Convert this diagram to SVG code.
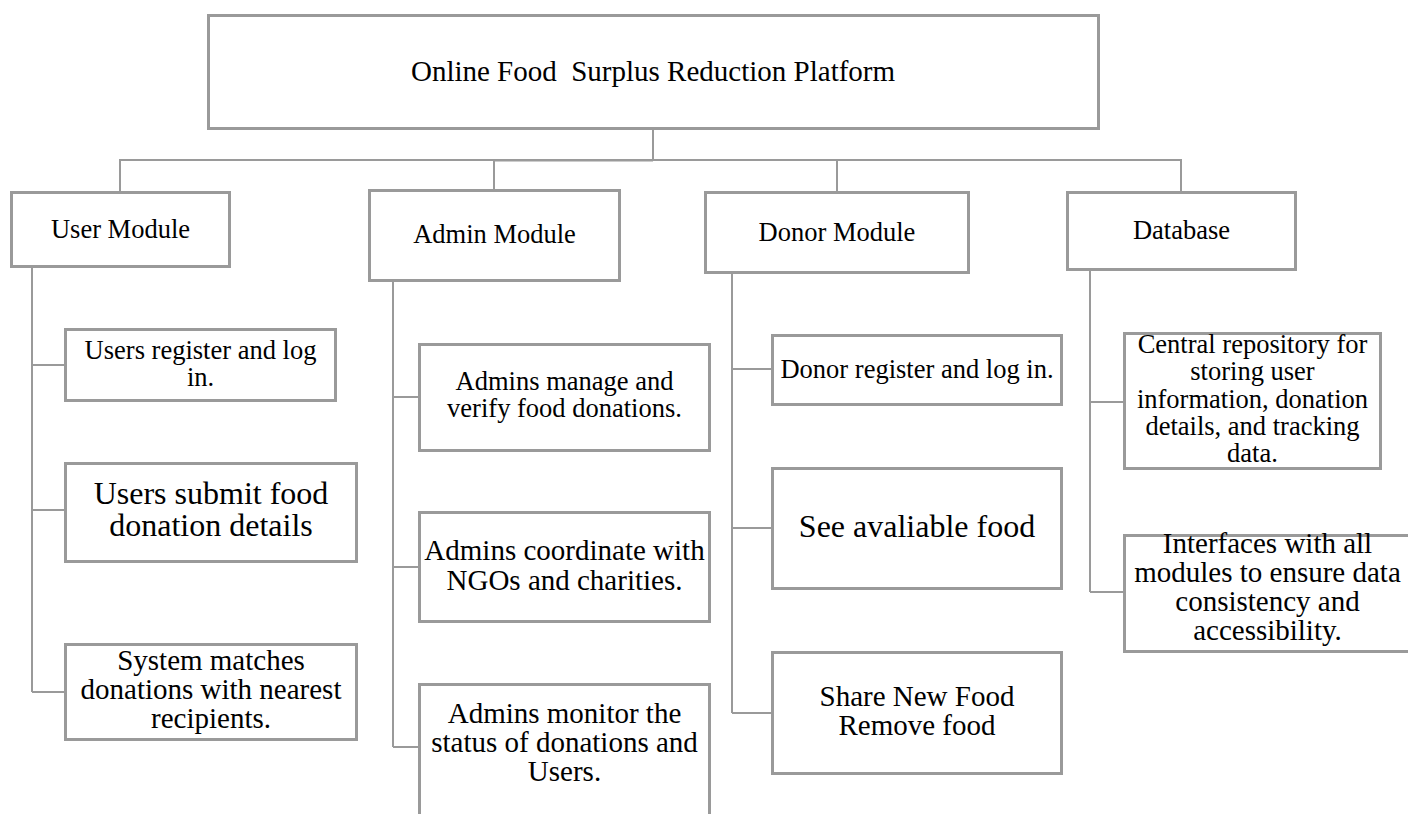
<svg xmlns="http://www.w3.org/2000/svg" width="1408" height="814" viewBox="0 0 1408 814">
<style>
  .box { fill: #ffffff; stroke: #9a9a9a; stroke-width: 3; }
  .conn { fill: none; stroke: #9a9a9a; stroke-width: 2; }
  .lbl { fill: #000000; text-anchor: middle; }
  .t29 { font-size: 29px; }
  .t26 { font-size: 26.5px; }
  .t32 { font-size: 32px; }
</style>
<rect x="0" y="0" width="1408" height="814" fill="#ffffff"/>
<g id="connectors">
  <path class="conn" d="M653 130 V160"/>
  <path class="conn" d="M120 191 V160 H1181 V191"/>
  <path class="conn" d="M494 160.5 H653" stroke-width="3"/>
  <path class="conn" d="M494 160 V189"/>
  <path class="conn" d="M837 160 V191"/>
  <path class="conn" d="M32 268 V692 M32 365 H64 M32 510 H64 M32 692 H64"/>
  <path class="conn" d="M393 282 V747 M393 397 H418 M393 567 H418 M393 747 H418"/>
  <path class="conn" d="M732 274 V713 M732 369 H771 M732 528 H771 M732 713 H771"/>
  <path class="conn" d="M1090 271 V592 M1090 402 H1123 M1090 592 H1123"/>
</g>
<g font-family="'Liberation Serif', 'DejaVu Serif', serif">
<g id="title">
  <rect class="box" x="208.5" y="15.5" width="890" height="113"/>
  <text class="lbl t29" x="653" y="81" xml:space="preserve">Online Food  Surplus Reduction Platform</text>
</g>
<g id="user-module">
  <rect class="box" x="11.5" y="192.5" width="218" height="74"/>
  <text class="lbl t26" x="120.5" y="238">User Module</text>
</g>
<g id="admin-module">
  <rect class="box" x="369.5" y="190.5" width="250" height="90"/>
  <text class="lbl t26" x="494.5" y="243">Admin Module</text>
</g>
<g id="donor-module">
  <rect class="box" x="705.5" y="192.5" width="263" height="80"/>
  <text class="lbl t26" x="837" y="241">Donor Module</text>
</g>
<g id="database">
  <rect class="box" x="1067.5" y="192.5" width="228" height="77"/>
  <text class="lbl t26" x="1181.5" y="239">Database</text>
</g>
<g id="user-register">
  <rect class="box" x="65.5" y="329.5" width="270" height="71"/>
  <text class="lbl t26" x="200.5" y="359">Users register and log</text>
  <text class="lbl t26" x="200.5" y="386">in.</text>
</g>
<g id="user-submit">
  <rect class="box" x="65.5" y="463.5" width="291" height="98"/>
  <text class="lbl t32" x="211" y="504">Users submit food</text>
  <text class="lbl t32" x="211" y="536">donation details</text>
</g>
<g id="user-match">
  <rect class="box" x="65.5" y="644.5" width="291" height="95"/>
  <text class="lbl t29" x="211" y="670">System matches</text>
  <text class="lbl t29" x="211" y="699">donations with nearest</text>
  <text class="lbl t29" x="211" y="728">recipients.</text>
</g>
<g id="admin-verify">
  <rect class="box" x="419.5" y="344.5" width="290" height="106"/>
  <text class="lbl t26" x="564.5" y="390">Admins manage and</text>
  <text class="lbl t26" x="564.5" y="417">verify food donations.</text>
</g>
<g id="admin-coordinate">
  <rect class="box" x="419.5" y="512.5" width="290" height="109"/>
  <text class="lbl t29" x="564.5" y="560">Admins coordinate with</text>
  <text class="lbl t29" x="564.5" y="590">NGOs and charities.</text>
</g>
<g id="admin-monitor">
  <rect class="box" x="419.5" y="684.5" width="290" height="140"/>
  <text class="lbl t29" x="564.5" y="723">Admins monitor the</text>
  <text class="lbl t29" x="564.5" y="752">status of donations and</text>
  <text class="lbl t29" x="564.5" y="781">Users.</text>
</g>
<g id="donor-register">
  <rect class="box" x="772.5" y="335.5" width="289" height="69"/>
  <text class="lbl t26" x="917" y="378">Donor register and log in.</text>
</g>
<g id="donor-see">
  <rect class="box" x="772.5" y="468.5" width="289" height="120"/>
  <text class="lbl t32" x="917" y="537">See avaliable food</text>
</g>
<g id="donor-share">
  <rect class="box" x="772.5" y="652.5" width="289" height="121"/>
  <text class="lbl t29" x="917" y="706">Share New Food</text>
  <text class="lbl t29" x="917" y="735">Remove food</text>
</g>
<g id="db-central">
  <rect class="box" x="1124.5" y="333.5" width="256" height="135"/>
  <text class="lbl t26" x="1252.5" y="353">Central repository for</text>
  <text class="lbl t26" x="1252.5" y="380">storing user</text>
  <text class="lbl t26" x="1252.5" y="408">information, donation</text>
  <text class="lbl t26" x="1252.5" y="435">details, and tracking</text>
  <text class="lbl t26" x="1252.5" y="462">data.</text>
</g>
<g id="db-interfaces">
  <rect class="box" x="1124.5" y="535.5" width="288" height="116"/>
  <text class="lbl t29" x="1267.5" y="553">Interfaces with all</text>
  <text class="lbl t29" x="1267.5" y="582">modules to ensure data</text>
  <text class="lbl t29" x="1267.5" y="611">consistency and</text>
  <text class="lbl t29" x="1267.5" y="640">accessibility.</text>
</g>
</g>
</svg>
